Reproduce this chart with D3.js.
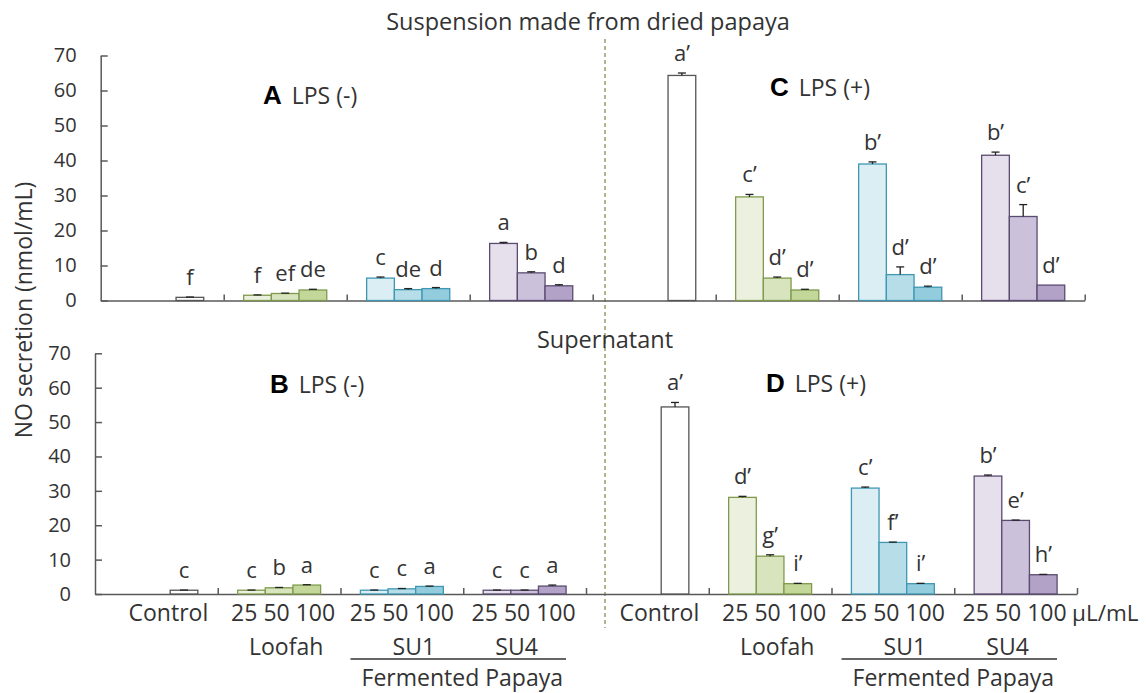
<!DOCTYPE html>
<html>
<head>
<meta charset="utf-8">
<script src="https://cdn.jsdelivr.net/npm/d3@7"></script>
<style>
  body { margin: 0; background: #fff; }
  text { font-family: 'Open Sans', sans-serif; fill: #333; }
  .pid { font-family: 'Liberation Sans', Arial, sans-serif; font-weight: bold; fill: #000; }
</style>
</head>
<body>
<div id="chart"></div>
<script>
'use strict'

// categories
const groups = ['Control', 'Loofah', 'SU1', 'SU4']
const doses = ['25', '50', '100']
const barGroup = ['Control', 'Loofah', 'Loofah', 'Loofah', 'SU1', 'SU1', 'SU1', 'SU4', 'SU4', 'SU4']
// control has no dose, it is drawn in the last slot like in the original
const barDose = ['100', '25', '50', '100', '25', '50', '100', '25', '50', '100']
const yTicks = [0, 10, 20, 30, 40, 50, 60, 70]

// A: suspension, LPS (-)
const valuesA = [0.9, 1.5, 2.0, 3.0, 6.4, 3.1, 3.4, 16.3, 7.9, 4.2]
const errA = [0.1, 0.1, 0.1, 0.2, 0.3, 0.3, 0.3, 0.3, 0.3, 0.3]
const lettersA = ['f', 'f', 'ef', 'de', 'c', 'de', 'd', 'a', 'b', 'd']

// C: suspension, LPS (+)
const valuesC = [64.3, 29.6, 6.4, 3.0, 39.0, 7.4, 3.8, 41.5, 24.0, 4.4]
const errC = [0.7, 0.7, 0.3, 0.2, 0.6, 2.2, 0.3, 0.9, 3.4, 0]
const lettersC = ['a’', 'c’', 'd’', 'd’', 'b’', 'd’', 'd’', 'b’', 'c’', 'd’']

// B: supernatant, LPS (-)
const valuesB = [1.1, 1.1, 1.8, 2.6, 1.1, 1.5, 2.2, 1.1, 1.1, 2.3]
const errB = [0.05, 0.05, 0.1, 0.1, 0.05, 0.1, 0.1, 0.05, 0.05, 0.3]
const lettersB = ['c', 'c', 'b', 'a', 'c', 'c', 'a', 'c', 'c', 'a']

// D: supernatant, LPS (+)
const valuesD = [54.4, 28.1, 11.0, 3.0, 30.8, 15.0, 3.0, 34.3, 21.4, 5.6]
const errD = [1.3, 0.3, 0.4, 0.1, 0.3, 0.1, 0.1, 0.3, 0.1, 0.1]
const lettersD = ['a’', 'd’', 'g’', 'i’', 'c’', 'f’', 'i’', 'b’', 'e’', 'h’']

const rowTitles = ['Suspension made from dried papaya', 'Supernatant']
const unitLabel = 'μL/mL'

// styles
const fills = {
  Control: {'100': '#ffffff'},
  Loofah: {'25': '#ebf1de', '50': '#d7e4bd', '100': '#c4d79b'},
  SU1: {'25': '#dbeef4', '50': '#b7dee8', '100': '#93cddd'},
  SU4: {'25': '#e6e0ec', '50': '#ccc1da', '100': '#b3a2c7'}
}
const strokes = {Control: '#555', Loofah: '#7f9a4c', SU1: '#3f97b3', SU4: '#5b4b70'}
const fs = 23

const rows = [
  {x0: 100.7, x1: 1084.7, y0: 300.5, y1: 55.5, titleX: 588, titleY: 30},
  {x0: 95, x1: 1077, y0: 594, y1: 353.3, titleX: 605, titleY: 348}
]

const panels = [
  {id: 'A', lps: 'LPS (-)', row: 0, side: 0, values: valuesA, err: errA, letters: lettersA, pos: [263, 104]},
  {id: 'C', lps: 'LPS (+)', row: 0, side: 1, values: valuesC, err: errC, letters: lettersC, pos: [770, 96]},
  {id: 'B', lps: 'LPS (-)', row: 1, side: 0, values: valuesB, err: errB, letters: lettersB, pos: [270, 393]},
  {id: 'D', lps: 'LPS (+)', row: 1, side: 1, values: valuesD, err: errD, letters: lettersD, pos: [766, 392]}
]

const W = 1146
const H = 693
const svg = d3.select('#chart').append('svg')
  .attr('width', W)
  .attr('height', H)

rows.forEach(r => {
  r.xo = d3.scaleBand().domain(d3.range(groups.length * 2)).range([r.x0, r.x1])
  r.xi = d3.scaleBand().domain(doses).range([0, r.xo.bandwidth()]).paddingOuter(0.72)
  r.y = d3.scaleLinear().domain([0, 70]).range([r.y0, r.y1])
})

// dashed separator
svg.append('line')
  .attr('x1', 605).attr('x2', 605)
  .attr('y1', 39).attr('y2', 628)
  .attr('stroke', '#9a9b6b')
  .attr('stroke-width', 1.5)
  .attr('stroke-dasharray', '4,3')

rows.forEach((r, ri) => {
  let g = svg.append('g').attr('class', 'row')

  // y axis, ticks inside
  let yAxis = g.append('g')
    .attr('transform', `translate(${r.x0},0)`)
    .call(d3.axisLeft(r.y).tickValues(yTicks).tickSizeInner(-7).tickSizeOuter(0).tickPadding(24))
  yAxis.selectAll('text').attr('font-size', 20).attr('font-family', null).attr('fill', '#333')

  // x axis, ticks at category edges
  let edge = d3.scaleLinear().domain([0, groups.length * 2]).range([r.x0, r.x1])
  g.append('g')
    .attr('transform', `translate(0,${r.y0})`)
    .call(d3.axisBottom(edge).tickValues(d3.range(1, groups.length * 2 + 1)).tickSizeInner(-6).tickSizeOuter(0).tickFormat(''))

  g.selectAll('.domain, .tick line')
    .attr('stroke', '#595959')
    .attr('stroke-width', 1.5)

  g.append('text')
    .attr('x', r.titleX)
    .attr('y', r.titleY)
    .attr('text-anchor', 'middle')
    .attr('font-size', 23.5)
    .text(rowTitles[ri])
})

panels.forEach(p => {
  let r = rows[p.row]
  let bars = p.values.map((v, i) => ({
    v, e: p.err[i], letter: p.letters[i], group: barGroup[i], dose: barDose[i],
    gi: p.side * groups.length + groups.indexOf(barGroup[i])
  }))
  let g = svg.append('g').attr('class', 'panel-' + p.id)
  let bx = d => r.xo(d.gi) + r.xi(d.dose)
  let bw = r.xi.bandwidth()

  g.selectAll('rect').data(bars).enter().append('rect')
    .attr('x', bx)
    .attr('y', d => r.y(d.v))
    .attr('width', bw)
    .attr('height', d => r.y0 - r.y(d.v))
    .attr('fill', d => fills[d.group][d.dose])
    .attr('stroke', d => strokes[d.group])
    .attr('stroke-width', 1.3)

  let err = g.selectAll('g.err').data(bars.filter(d => d.e > 0)).enter().append('g')
    .attr('class', 'err')
  err.append('line')
    .attr('x1', d => bx(d) + bw / 2).attr('x2', d => bx(d) + bw / 2)
    .attr('y1', d => r.y(d.v)).attr('y2', d => r.y(d.v + d.e))
  err.append('line')
    .attr('x1', d => bx(d) + bw / 2 - 4).attr('x2', d => bx(d) + bw / 2 + 4)
    .attr('y1', d => r.y(d.v + d.e)).attr('y2', d => r.y(d.v + d.e))
  err.selectAll('line').attr('stroke', '#222').attr('stroke-width', 1.3)

  g.selectAll('text.letter').data(bars).enter().append('text')
    .attr('class', 'letter')
    .attr('x', d => bx(d) + bw / 2)
    .attr('y', d => r.y(d.v + d.e) - 12)
    .attr('text-anchor', 'middle')
    .attr('font-size', 22)
    .text(d => d.letter)

  let t = g.append('text')
    .attr('x', p.pos[0])
    .attr('y', p.pos[1])
  t.append('tspan').attr('class', 'pid').attr('font-size', 26).text(p.id)
  t.append('tspan').attr('dx', 10).attr('font-size', fs).text(p.lps)
})

// category labels under the bottom row
let rb = rows[1]
let lab = svg.append('g').attr('class', 'xlabels').attr('font-size', fs)
let gc = i => rb.xo(i) + rb.xo.bandwidth() / 2
let nameShift = {Control: 12, Loofah: 7, SU1: 12, SU4: -8}
let numShift = {Loofah: 4, SU1: 0, SU4: -1}

;[0, 1].forEach(side => {
  groups.forEach((name, k) => {
    let i = side * groups.length + k
    if (name === 'Control') {
      lab.append('text').attr('x', gc(i) + nameShift[name]).attr('y', 621)
        .attr('text-anchor', 'middle').text(name)
      return
    }
    lab.append('text').attr('x', gc(i) + numShift[name]).attr('y', 621)
      .attr('text-anchor', 'middle').text(doses.join(' '))
    lab.append('text').attr('x', gc(i) + nameShift[name]).attr('y', 655)
      .attr('text-anchor', 'middle').text(name)
  })
  // fermented papaya bracket
  let l0 = rb.xo(side * groups.length + 2) + 10
  let l1 = rb.xo(side * groups.length + 3) + rb.xo.bandwidth() - 20
  lab.append('line')
    .attr('x1', l0).attr('x2', l1)
    .attr('y1', 659).attr('y2', 659)
    .attr('stroke', '#333').attr('stroke-width', 1.5)
  lab.append('text').attr('x', (l0 + l1) / 2 + 4).attr('y', 686)
    .attr('text-anchor', 'middle').text('Fermented Papaya')
})

lab.append('text').attr('x', rb.x1 - 5).attr('y', 621).attr('font-size', 22.5).text(unitLabel)

svg.append('text')
  .attr('transform', 'translate(32,310) rotate(-90)')
  .attr('text-anchor', 'middle')
  .attr('font-size', 23)
  .text('NO secretion (nmol/mL)')
</script>
</body>
</html>
